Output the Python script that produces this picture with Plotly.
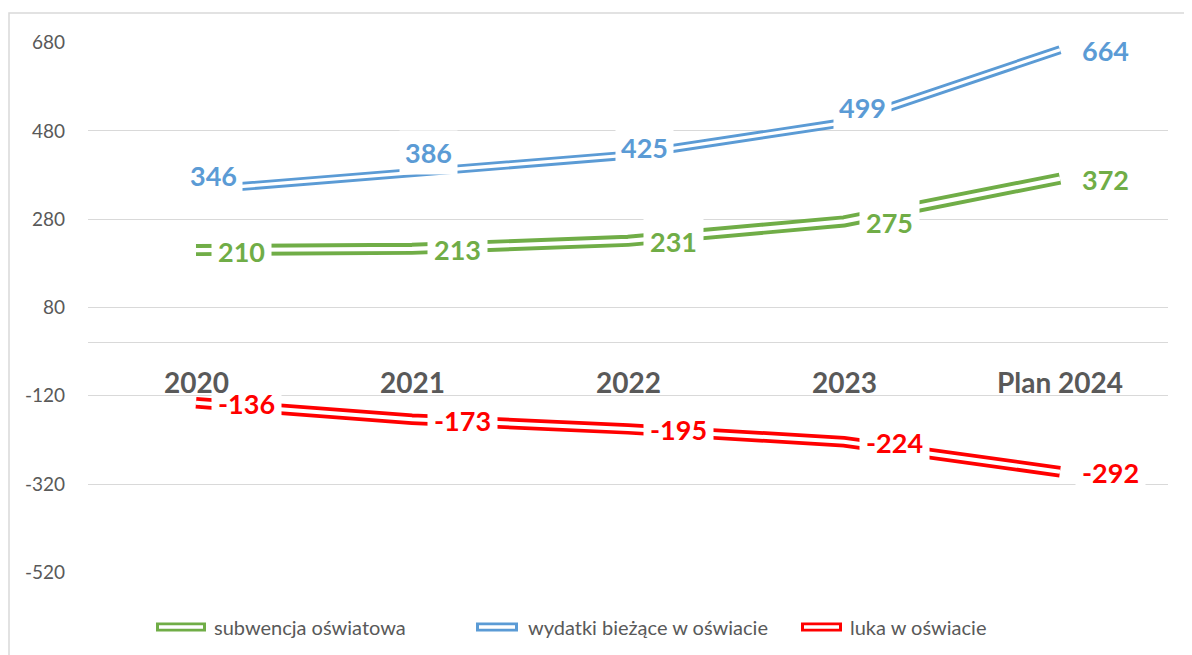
import plotly.graph_objects as go

categories = ["2020", "2021", "2022", "2023", "Plan 2024"]
subwencja = [210, 213, 231, 275, 372]
wydatki = [346, 386, 425, 499, 664]
luka = [-136, -173, -195, -224, -292]
y_ticks = [-520, -320, -120, 80, 280, 480, 680]

names = ["subwencja oświatowa", "wydatki bieżące w oświacie", "luka w oświacie"]
colors = ["#70AD47", "#5B9BD5", "#FF0000"]

# page body has an 8px margin; work in screen coordinates and convert
OFF = 8
W, H = 1192 - OFF, 655 - OFF
ML, MR, MT, MB = 88 - OFF, 24, 42 - OFF, 82
PW, PH = W - ML - MR, H - MT - MB
Y0, Y1 = -520, 680


def px(xs):
    return (xs - OFF - ML) / PW


def py(ys):
    return (H - MB - (ys - OFF)) / PH


FONT = "Lato"
GRAY = "#595959"

fig = go.Figure()

series = [
    (subwencja, colors[0], 12, 4.2),
    (wydatki, colors[1], 9, 3.3),
    (luka, colors[2], 11.5, 4.0),
]
for vals, col, wo, wi in series:
    fig.add_trace(go.Scatter(x=categories, y=vals, mode="lines",
                             line=dict(color=col, width=wo), showlegend=False,
                             hoverinfo="skip"))
    fig.add_trace(go.Scatter(x=categories, y=vals, mode="lines",
                             line=dict(color="white", width=wi), showlegend=False,
                             hoverinfo="skip"))


def label_font(c):
    return dict(family=FONT, size=27, color=c)


# green and red labels: right of point
for vals, col in [(subwencja, colors[0]), (luka, colors[2])]:
    for i, v in enumerate(vals):
        fig.add_annotation(x=i, y=v, text=f"<b>{v}</b>", showarrow=False,
                           xanchor="left", yanchor="middle", xshift=15, yshift=-1,
                           bgcolor="white", borderpad=6, font=label_font(col))
# blue labels: manually placed
blue_off = [(17, 15), (16, 20), (16, 8), (18, 15), None]
for i, (v, off) in enumerate(zip(wydatki, blue_off)):
    if off is None:
        fig.add_annotation(x=i, y=v, text=f"<b>{v}</b>", showarrow=False,
                           xanchor="left", yanchor="middle", xshift=15, yshift=-1,
                           bgcolor="white", borderpad=6, font=label_font(colors[1]))
    else:
        fig.add_annotation(x=i, y=v, text=f"<b>{v}</b>", showarrow=False,
                           xanchor="center", yanchor="middle", xshift=off[0], yshift=off[1],
                           bgcolor="white", borderpad=5, font=label_font(colors[1]))

# category labels next to the zero axis line (drawn on top of data labels)
for i, c in enumerate(categories):
    fig.add_annotation(x=i, y=0, text=f"<b>{c}</b>", showarrow=False,
                       xanchor="center", yanchor="middle", yshift=-39,
                       font=dict(family=FONT, size=28, color=GRAY))

# chart border
fig.add_shape(type="rect", xref="paper", yref="paper",
              x0=px(9), x1=px(1210), y0=py(670), y1=py(13),
              line=dict(color="#D9D9D9", width=1.5), fillcolor="rgba(0,0,0,0)", layer="below")

# manual legend
leg_items = [(152, 210, 212), (472, 522, 526), (797, 846, 848)]
ly = 627
for (x0, x1, tx), name, col in zip(leg_items, names, colors):
    fig.add_shape(type="line", xref="paper", yref="paper",
                  x0=px(x0 + 4), x1=px(x1 - 4), y0=py(ly), y1=py(ly),
                  line=dict(color=col, width=9))
    fig.add_shape(type="line", xref="paper", yref="paper",
                  x0=px(x0 + 7), x1=px(x1 - 7), y0=py(ly), y1=py(ly),
                  line=dict(color="white", width=3.5))
    fig.add_annotation(xref="paper", yref="paper", x=px(tx), y=py(ly), text=name,
                       showarrow=False, xanchor="left", yanchor="middle",
                       font=dict(family=FONT, size=20, color=GRAY))

fig.update_layout(
    width=W, height=H,
    margin=dict(l=ML, r=MR, t=MT, b=MB),
    paper_bgcolor="white", plot_bgcolor="white",
    showlegend=False,
    xaxis=dict(type="category", range=[-0.5, 4.5], showline=False, showgrid=False,
               zeroline=False, ticks="", showticklabels=False),
    yaxis=dict(range=[Y0 - 1.5, Y1 + 1.5], tickvals=y_ticks, ticktext=[str(t) for t in y_ticks],
               showgrid=True, gridcolor="#D9D9D9", gridwidth=1.3,
               zeroline=True, zerolinecolor="#D9D9D9", zerolinewidth=1.3,
               showline=False, ticks="", ticklabelstandoff=22,
               tickfont=dict(family=FONT, size=19, color=GRAY)),
)

fig.write_html("out.html")
